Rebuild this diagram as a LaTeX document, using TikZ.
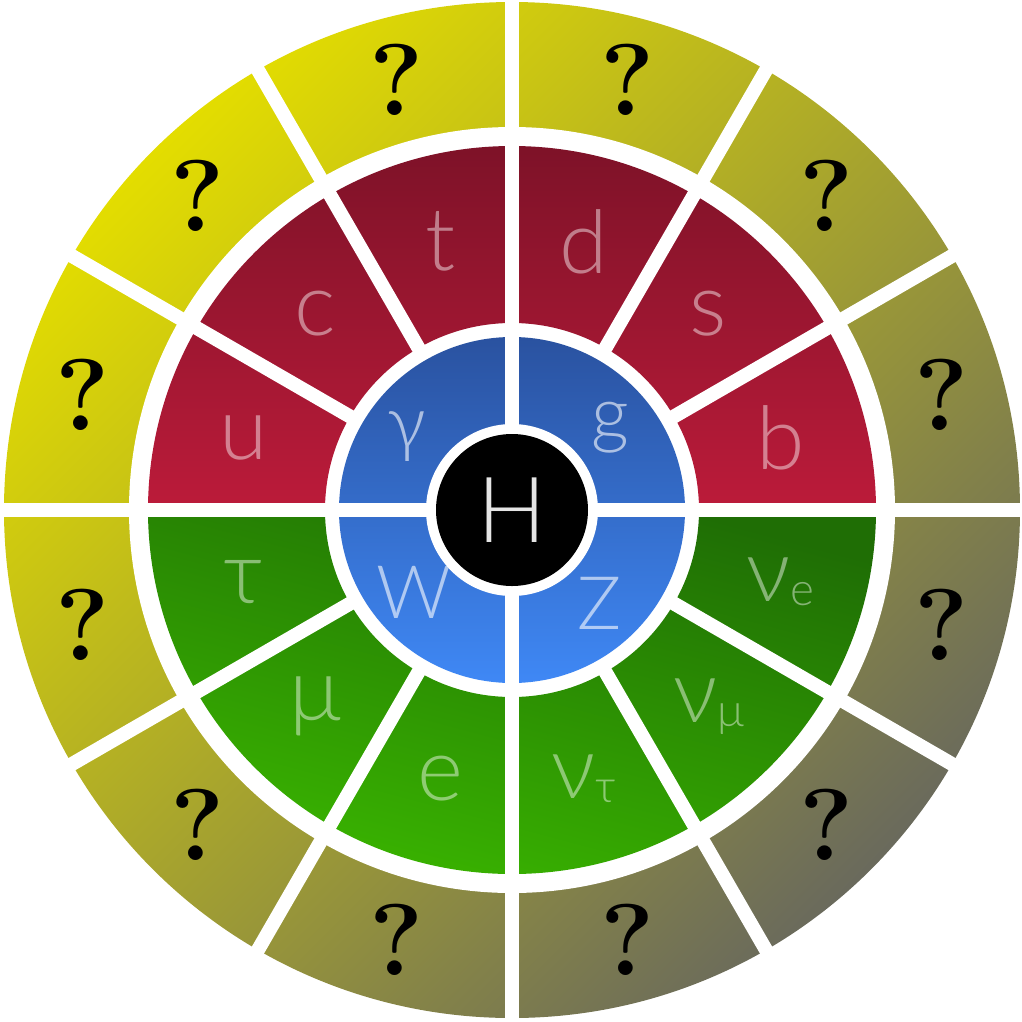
\documentclass[tikz,border=0pt]{standalone}
\usepackage{fontspec}
\setsansfont{Lato Light}
\usepackage{tikz}
\definecolor{RingTop}{HTML}{E3DD00}
\definecolor{RingLow}{HTML}{6A6A5C}
\definecolor{QuarkTop}{HTML}{7E1228}
\definecolor{QuarkLow}{HTML}{BC1B3A}
\definecolor{LeptonTop}{HTML}{1F6E05}
\definecolor{LeptonLow}{HTML}{3AB500}
\definecolor{BosonTop}{HTML}{2A52A0}
\definecolor{BosonLow}{HTML}{3F88F5}
\newcommand{\lsub}[1]{\raisebox{-1pt}{\fontsize{13}{13}\selectfont #1}}

\begin{document}
\begin{tikzpicture}[
        particle/.style={
                font=\sffamily\fontsize{25}{25}\selectfont,
                text=white,
                text opacity=0.45,
                inner sep=0pt
            },
        boson/.style={particle, font=\sffamily\fontsize{21}{21}\selectfont, text opacity=0.6},
        unknown/.style={font=\fontsize{29}{29}\selectfont\bfseries, text=black, inner sep=0pt},
        gap/.style={draw=white, line width=0.14cm},
    ]
    \useasboundingbox (-5.12,-5.11) rectangle (5.10,5.10);

    % rings
    \shade[top color=RingTop, bottom color=RingLow, shading angle=45] (0,0) circle (5.08);
    \fill[white] (0,0) circle (3.83);
    \shade[top color=QuarkTop, bottom color=QuarkLow]
        (0:3.64) arc (0:180:3.64) -- (180:1.87) arc (180:0:1.87) -- cycle;
    \shade[top color=LeptonTop, bottom color=LeptonLow, shading angle=-15]
        (0:3.64) arc (0:-180:3.64) -- (180:1.87) arc (180:360:1.87) -- cycle;
    \shade[top color=BosonTop, bottom color=BosonLow] (0,0) circle (1.73);

    % white spokes
    \foreach \a in {0,30,...,330}
    \draw[gap] (\a:1.8) -- (\a:5.15);
    \foreach \a in {0,90,180,270}
    \draw[gap] (0,0) -- (\a:1.8);
    \fill[white] (0,0) circle (0.86);

    \node[circle, fill=black, minimum size=1.52cm, inner sep=0pt,
        font=\sffamily\fontsize{26}{26}\selectfont, text=white!90!black] (higgs) at (0,0) {H};

    \foreach \a/\t [count=\i] in {165/u, 135/c, 105/t, 75/d, 45/s, 15/b}
    \node[particle] (quark\i) at (\a:2.78) {\t};

    \foreach \a/\t [count=\i] in {195/τ, 225/μ, 255/e, 285/{ν\lsub{τ}}, 315/{ν\lsub{μ}}, 345/{ν\lsub{e}}}
    \node[particle] (lepton\i) at (\a:2.78) {\t};

    \foreach \a/\t [count=\i] in {145/γ, 40/g, 220/W, 313/Z}
    \node[boson] (boson\i) at (\a:1.28) {\t};

    \foreach \a [count=\i] in {15,45,...,345}
    \node[unknown] (what\i) at (\a:4.45) {?};

\end{tikzpicture}
\end{document}
